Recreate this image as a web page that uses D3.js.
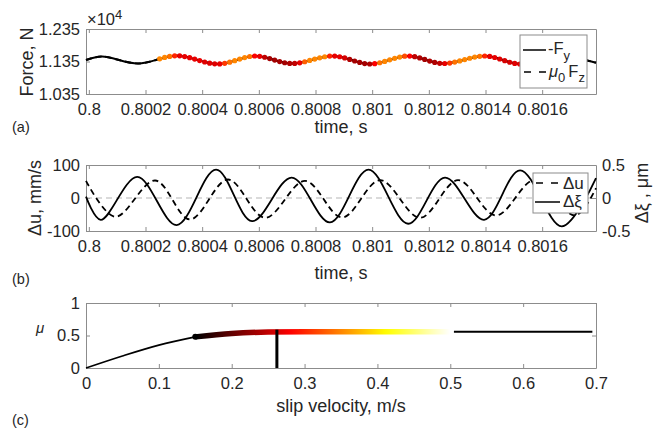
<!DOCTYPE html>
<html>
<head>
<meta charset="utf-8">
<script src="https://cdn.jsdelivr.net/npm/d3@7"></script>
<style>
  body { margin: 0; background: #fff; }
  svg text { font-family: "Liberation Sans", Arial, Helvetica, sans-serif; fill: #262626; }
</style>
</head>
<body>
<div id="plot"></div>
<script>
// tick values
const timeTicks = [0.8, 0.8002, 0.8004, 0.8006, 0.8008, 0.801, 0.8012, 0.8014, 0.8016];
const forceTicks = [10350, 11350, 12350];
const duTicks = [-100, 0, 100];
const xiTicks = [-0.5, 0, 0.5];
const slipTicks = [0, 0.1, 0.2, 0.3, 0.4, 0.5, 0.6, 0.7];
const muTicks = [0, 0.5, 1];

// (a) friction force, extrema (N)
const forceT = [0.79999, 0.800046, 0.800174, 0.80031, 0.800456, 0.800587, 0.800716, 0.800862,
                0.800993, 0.801127, 0.80125, 0.801399, 0.801523, 0.801667, 0.80179];
const forceN = [11396, 11504, 11288, 11528, 11273, 11519, 11288, 11519,
                11273, 11519, 11288, 11519, 11273, 11510, 11310];

// (a) coloured samples: slip velocity (m/s) of each marker
const markerT0 = 0.80025;
const markerDt = 1.765e-5;
const markerSlip = [0.35, 0.35, 0.34, 0.30, 0.27, 0.27, 0.27, 0.27, 0.27, 0.265,
                    0.265, 0.265, 0.27, 0.31, 0.34, 0.35, 0.35, 0.35, 0.34, 0.28,
                    0.27, 0.25, 0.235, 0.235, 0.235, 0.235, 0.24, 0.25, 0.27, 0.33,
                    0.35, 0.35, 0.35, 0.35, 0.30, 0.27, 0.27, 0.26, 0.24, 0.235,
                    0.235, 0.235, 0.24, 0.28, 0.34, 0.35, 0.35, 0.35, 0.35, 0.32,
                    0.28, 0.25, 0.24, 0.235, 0.24, 0.24, 0.25, 0.27, 0.31, 0.34,
                    0.35, 0.35, 0.35, 0.35, 0.34, 0.30, 0.27, 0.27, 0.265, 0.26,
                    0.26, 0.265, 0.27];

// (b) displacement (um) and velocity (mm/s) fluctuations, extrema
const xiT = [0.79999, 0.800042, 0.800171, 0.80031, 0.800449, 0.800576, 0.800716, 0.800851,
             0.800987, 0.801127, 0.801257, 0.801395, 0.801522, 0.801669, 0.80179];
const xiVal = [0.02, -0.33, 0.32, -0.41, 0.43, -0.35, 0.31, -0.37,
               0.43, -0.39, 0.31, -0.33, 0.42, -0.43, 0.30];
const duT = [0.79999, 0.800093, 0.800234, 0.800357, 0.800491, 0.800622, 0.800763, 0.800894,
             0.801028, 0.801169, 0.801303, 0.801437, 0.801575, 0.801716, 0.80179];
const duVal = [52, -57, 53, -65, 56, -60, 52, -59, 54, -60, 54, -53, 55, -53, 30];

// (c) friction coefficient vs slip velocity
const muV = [0, 0.05, 0.1, 0.15, 0.2, 0.25, 0.3, 0.4, 0.5];
const muVal = [0, 0.185, 0.352, 0.479, 0.532, 0.552, 0.556, 0.557, 0.557];
const highV = [0.505, 0.695];
const highMu = [0.556, 0.556];
const opSlip = 0.262;
const opMu = 0.59;

const W = 655, H = 430;
const left = 86, right = 596;
const boxA = {top: 29, bottom: 94};
const boxB = {top: 165, bottom: 231};
const boxC = {top: 303, bottom: 368};

const svg = d3.select("#plot").append("svg")
  .attr("width", W).attr("height", H);

// MATLAB-like hot colormap
function hot(t) {
  t = Math.max(0, Math.min(1, t));
  const r = Math.min(1, t / 0.375),
        g = Math.max(0, Math.min(1, (t - 0.375) / 0.375)),
        b = Math.max(0, (t - 0.75) / 0.25);
  return d3.rgb(r * 255, g * 255, b * 255).formatHex();
}
const slipT = d3.scaleLinear().domain([0.15, 0.5]).range([0, 1]).clamp(true);
const slipColor = v => hot(slipT(v));

function drawAxes(x, y, box, xt, yt, xfmt, yfmt) {
  const g = svg.append("g");
  g.append("g").attr("transform", `translate(0,${box.bottom})`)
    .call(d3.axisBottom(x).tickValues(xt).tickFormat(xfmt).tickSize(-4).tickSizeOuter(0).tickPadding(9));
  g.append("g").attr("transform", `translate(0,${box.top})`)
    .call(d3.axisTop(x).tickValues(xt).tickFormat("").tickSize(-4).tickSizeOuter(0));
  g.append("g").attr("transform", `translate(${left},0)`)
    .call(d3.axisLeft(y).tickValues(yt).tickFormat(yfmt).tickSize(-4).tickSizeOuter(0).tickPadding(6));
  g.append("g").attr("transform", `translate(${right},0)`)
    .call(d3.axisRight(y).tickValues(yt).tickFormat("").tickSize(-4).tickSizeOuter(0));
  g.selectAll(".domain, .tick line").attr("stroke", "#8c8c8c");
  g.selectAll("text").attr("font-size", 16.5).attr("fill", "#262626")
    .attr("font-family", '"Liberation Sans", Arial, sans-serif');
  return g;
}

function label(txt, x, y, size, opts = {}) {
  const t = svg.append("text").attr("x", x).attr("y", y)
    .attr("font-size", size).attr("text-anchor", opts.anchor || "middle").text(txt);
  if (opts.rotate) t.attr("x", 0).attr("y", 0).attr("transform", `translate(${x},${y}) rotate(-90)`);
  if (opts.italic) t.attr("font-style", "italic");
  return t;
}

// ---------- (a) ----------
const xTime = d3.scaleLinear().domain([0.79999, 0.80179]).range([left, right]);
const yForce = d3.scaleLinear().domain([10350, 12350]).range([boxA.bottom, boxA.top]);

drawAxes(xTime, yForce, boxA, timeTicks, forceTicks, d => String(d), d => (d / 1e4).toFixed(3));

const forceLine = d3.line().curve(d3.curveCatmullRom)
  .x((d, i) => xTime(forceT[i])).y(d => yForce(d));

// -Fy (solid) and mu0*Fz (dashed) lie on top of each other
const forcePath = svg.append("path").datum(forceN)
  .attr("d", forceLine).attr("fill", "none").attr("stroke", "#000").attr("stroke-width", 2);
svg.append("path").datum(forceN)
  .attr("d", forceLine).attr("fill", "none").attr("stroke", "#000").attr("stroke-width", 2)
  .attr("stroke-dasharray", "6,4");

function yOnPath(path, px) {
  let lo = 0, hi = path.getTotalLength();
  for (let k = 0; k < 30; k++) {
    const mid = (lo + hi) / 2;
    if (path.getPointAtLength(mid).x < px) lo = mid; else hi = mid;
  }
  return path.getPointAtLength(lo).y;
}
const fp = forcePath.node();
svg.append("g").selectAll("circle")
  .data(markerSlip)
  .enter().append("circle")
    .attr("cx", (d, i) => xTime(markerT0 + i * markerDt))
    .attr("cy", (d, i) => yOnPath(fp, xTime(markerT0 + i * markerDt)))
    .attr("r", 2.6)
    .attr("fill", d => slipColor(d));

label("time, s", 341, 133, 18);
label("Force, N", 33, 62, 18, {rotate: true});
label("(a)", 12, 132, 14.5, {anchor: "start"});
const expo = svg.append("text").attr("x", 87).attr("y", 25).attr("font-size", 16.5);
expo.append("tspan").text("×10");
expo.append("tspan").attr("font-size", 13).attr("dy", -6).text("4");

// legend (a)
const legA = svg.append("g");
legA.append("rect").attr("x", 520).attr("y", 35).attr("width", 67).attr("height", 53)
  .attr("fill", "#fff").attr("stroke", "#8c8c8c");
legA.append("line").attr("x1", 523).attr("x2", 546).attr("y1", 50).attr("y2", 50)
  .attr("stroke", "#000").attr("stroke-width", 1.5);
legA.append("line").attr("x1", 524).attr("x2", 546).attr("y1", 72).attr("y2", 72)
  .attr("stroke", "#000").attr("stroke-width", 1.5).attr("stroke-dasharray", "7,8");
const la1 = legA.append("text").attr("x", 548).attr("y", 54).attr("font-size", 16.5);
la1.append("tspan").text("-F");
la1.append("tspan").attr("font-size", 13).attr("dy", 6).text("y");
const la2 = legA.append("text").attr("x", 549).attr("y", 77).attr("font-size", 16.5);
la2.append("tspan").attr("font-style", "italic").text("μ");
la2.append("tspan").attr("font-size", 13).attr("dy", 5).text("0");
la2.append("tspan").attr("dy", -5).attr("dx", 3).text("F");
la2.append("tspan").attr("font-size", 13).attr("dy", 5).text("z");

// ---------- (b) ----------
const yDu = d3.scaleLinear().domain([-100, 100]).range([boxB.bottom, boxB.top]);
const yXi = d3.scaleLinear().domain([-0.5, 0.5]).range([boxB.bottom, boxB.top]);

const axB = drawAxes(xTime, yDu, boxB, timeTicks, duTicks, d => String(d), d => String(d));
axB.append("g").attr("transform", `translate(${right},0)`)
  .call(d3.axisRight(yXi).tickValues(xiTicks).tickFormat(d => String(d)).tickSize(0).tickPadding(6))
  .call(g => g.select(".domain").remove())
  .selectAll("text").attr("font-size", 16.5).attr("fill", "#262626")
  .attr("font-family", '"Liberation Sans", Arial, sans-serif');

svg.append("line").attr("x1", left).attr("x2", right).attr("y1", yDu(0)).attr("y2", yDu(0))
  .attr("stroke", "#b5b5b5").attr("stroke-width", 1.2).attr("stroke-dasharray", "6,4");

svg.append("path").datum(duVal)
  .attr("d", d3.line().curve(d3.curveCatmullRom).x((d, i) => xTime(duT[i])).y(d => yDu(d)))
  .attr("fill", "none").attr("stroke", "#000").attr("stroke-width", 1.8).attr("stroke-dasharray", "6,4");
svg.append("path").datum(xiVal)
  .attr("d", d3.line().curve(d3.curveCatmullRom).x((d, i) => xTime(xiT[i])).y(d => yXi(d)))
  .attr("fill", "none").attr("stroke", "#000").attr("stroke-width", 1.8);

label("time, s", 341, 279, 18);
label("Δu, mm/s", 41, 198, 18, {rotate: true});
label("Δξ , μm", 648, 193, 18, {rotate: true});
label("(b)", 12, 284, 14.5, {anchor: "start"});

const legB = svg.append("g");
legB.append("rect").attr("x", 533).attr("y", 173).attr("width", 55).attr("height", 40)
  .attr("fill", "#fff").attr("stroke", "#8c8c8c");
legB.append("line").attr("x1", 536).attr("x2", 560).attr("y1", 183).attr("y2", 183)
  .attr("stroke", "#000").attr("stroke-width", 1.5).attr("stroke-dasharray", "7,8");
legB.append("line").attr("x1", 535).attr("x2", 560).attr("y1", 202).attr("y2", 202)
  .attr("stroke", "#000").attr("stroke-width", 1.5);
legB.append("text").attr("x", 563).attr("y", 189).attr("font-size", 17).text("Δu");
legB.append("text").attr("x", 563).attr("y", 207).attr("font-size", 17).text("Δξ");

// ---------- (c) ----------
const xSlip = d3.scaleLinear().domain([0, 0.7]).range([left, right]);
const yMu = d3.scaleLinear().domain([0, 1]).range([boxC.bottom, boxC.top]);

drawAxes(xSlip, yMu, boxC, slipTicks, muTicks, d => String(d), d => String(d));

const grad = svg.append("defs").append("linearGradient").attr("id", "hotGrad")
  .attr("gradientUnits", "userSpaceOnUse")
  .attr("x1", xSlip(0.15)).attr("x2", xSlip(0.5)).attr("y1", 0).attr("y2", 0);
d3.range(0, 36).forEach(k => {
  grad.append("stop").attr("offset", k / 35).attr("stop-color", hot(k / 35));
});

const muPts = muV.map((v, i) => [v, muVal[i]]);
const muLine = d3.line().curve(d3.curveMonotoneX).x(d => xSlip(d[0])).y(d => yMu(d[1]));

svg.append("path").datum(muPts.filter(d => d[0] <= 0.15))
  .attr("d", muLine).attr("fill", "none").attr("stroke", "#000").attr("stroke-width", 1.6);
svg.append("path").datum(muPts.filter(d => d[0] >= 0.15))
  .attr("d", muLine).attr("fill", "none").attr("stroke", "url(#hotGrad)").attr("stroke-width", 5.5);
svg.append("circle").attr("cx", xSlip(0.15)).attr("cy", yMu(muVal[3])).attr("r", 3).attr("fill", "#000");
svg.append("path").datum(highV.map((v, i) => [v, highMu[i]]))
  .attr("d", muLine).attr("fill", "none").attr("stroke", "#000").attr("stroke-width", 2);
svg.append("line")
  .attr("x1", xSlip(opSlip)).attr("x2", xSlip(opSlip))
  .attr("y1", yMu(0)).attr("y2", yMu(opMu))
  .attr("stroke", "#000").attr("stroke-width", 3);

label("slip velocity, m/s", 341, 412, 18);
label("μ", 40, 333, 15, {italic: true});
label("(c)", 12, 425, 14.5, {anchor: "start"});
</script>
</body>
</html>
